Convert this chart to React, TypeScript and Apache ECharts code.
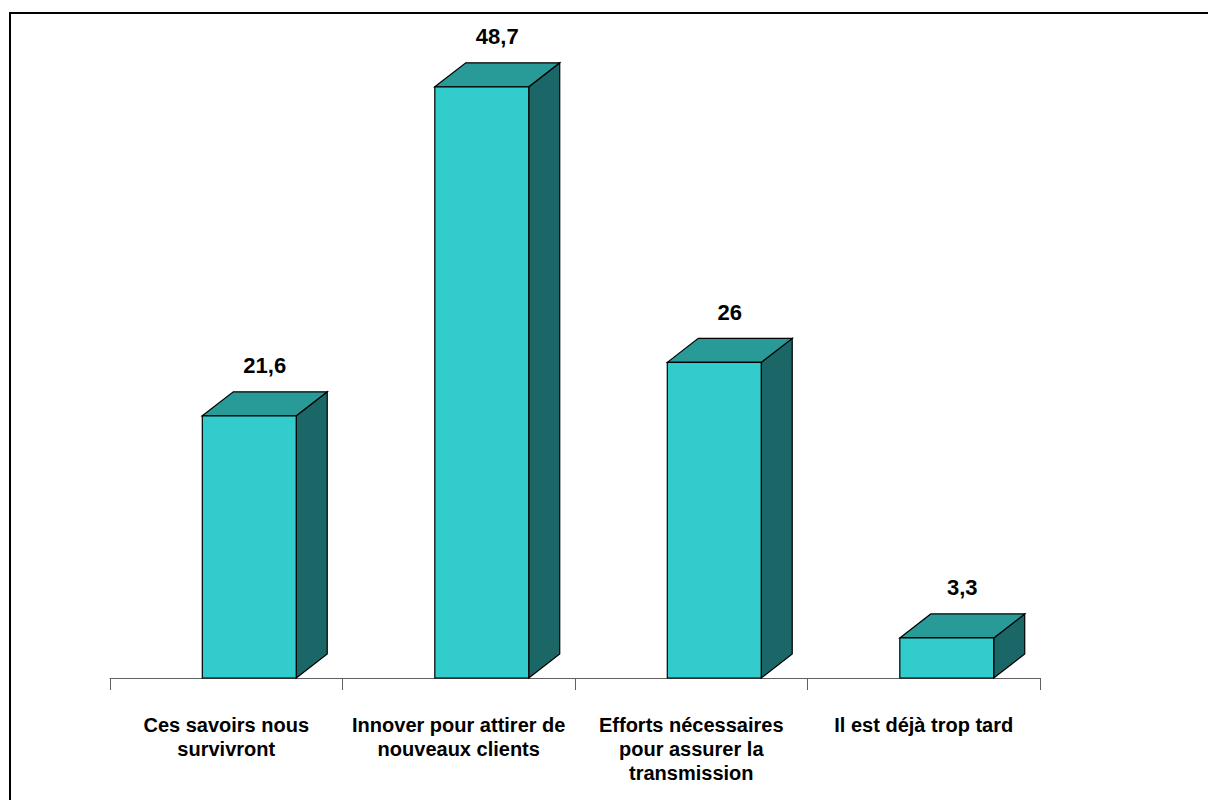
import React, { useEffect, useRef } from "react";
import * as echarts from "echarts";

const categories = [
  "Ces savoirs nous\nsurvivront",
  "Innover pour attirer de\nnouveaux clients",
  "Efforts nécessaires\npour assurer la\ntransmission",
  "Il est déjà trop tard",
];
const values = [21.6, 48.7, 26, 3.3];
const valueLabels = ["21,6", "48,7", "26", "3,3"];

const FONT = 'Arial, "Liberation Sans", sans-serif';

export default function App() {
  const ref = useRef<HTMLDivElement>(null);
  useEffect(() => {
    document.body.style.margin = "0";
    const chart = echarts.init(ref.current!, null, { renderer: "svg" });
    const depthX = 31;
    const depthY = -24;
    chart.setOption({
      animation: false,
      backgroundColor: "#ffffff",
      grid: { left: 110, right: 168, top: 71, bottom: 122 },
      xAxis: {
        type: "category",
        data: categories,
        offset: 19,
        axisLine: { lineStyle: { color: "#606060", width: 1 } },
        axisTick: { show: true, length: 12, lineStyle: { color: "#606060" } },
        axisLabel: {
          interval: 0,
          margin: 16,
          fontFamily: FONT,
          fontWeight: "bold",
          fontSize: 20,
          lineHeight: 24,
          color: "#000",
          align: "center",
        },
      },
      yAxis: { type: "value", min: 0, max: 50, show: false, splitLine: { show: false } },
      graphic: [
        {
          type: "rect",
          shape: { x: 10, y: 13, width: 1400, height: 1000 },
          style: { fill: "none", stroke: "#000", lineWidth: 2 },
          silent: true,
        },
      ],
      series: [
        {
          type: "custom",
          data: values.map((v, i) => [i, v]),
          renderItem: (params: any, api: any) => {
            const idx = api.value(0);
            const val = api.value(1);
            const top = api.coord([idx, val]);
            const base = api.coord([idx, 0]);
            const bw = api.size([1, 0])[0];
            const cx = top[0];
            const x0 = cx - 0.103 * bw;
            const x1 = x0 + 0.404 * bw;
            const yT = top[1];
            const yB = base[1];
            const lineStyle = { stroke: "#000", lineWidth: 1.2 };
            return {
              type: "group",
              children: [
                {
                  type: "polygon",
                  shape: {
                    points: [
                      [x1, yT],
                      [x1 + depthX, yT + depthY],
                      [x1 + depthX, yB + depthY],
                      [x1, yB],
                    ],
                  },
                  style: { fill: "#1B6767", ...lineStyle },
                },
                {
                  type: "polygon",
                  shape: {
                    points: [
                      [x0, yT],
                      [x0 + depthX, yT + depthY],
                      [x1 + depthX, yT + depthY],
                      [x1, yT],
                    ],
                  },
                  style: { fill: "#289B98", ...lineStyle },
                },
                {
                  type: "rect",
                  shape: { x: x0, y: yT, width: x1 - x0, height: yB - yT },
                  style: { fill: "#33CCCC", ...lineStyle },
                },
                {
                  type: "text",
                  style: {
                    text: valueLabels[params.dataIndex],
                    x: (x0 + x1 + depthX) / 2,
                    y: yT + depthY - 26,
                    align: "center",
                    verticalAlign: "middle",
                    font: `bold 22px ${FONT}`,
                    fill: "#000",
                  },
                },
              ],
            };
          },
        },
      ],
    });
    return () => chart.dispose();
  }, []);
  return <div ref={ref} style={{ width: 1208, height: 800 }} />;
}
